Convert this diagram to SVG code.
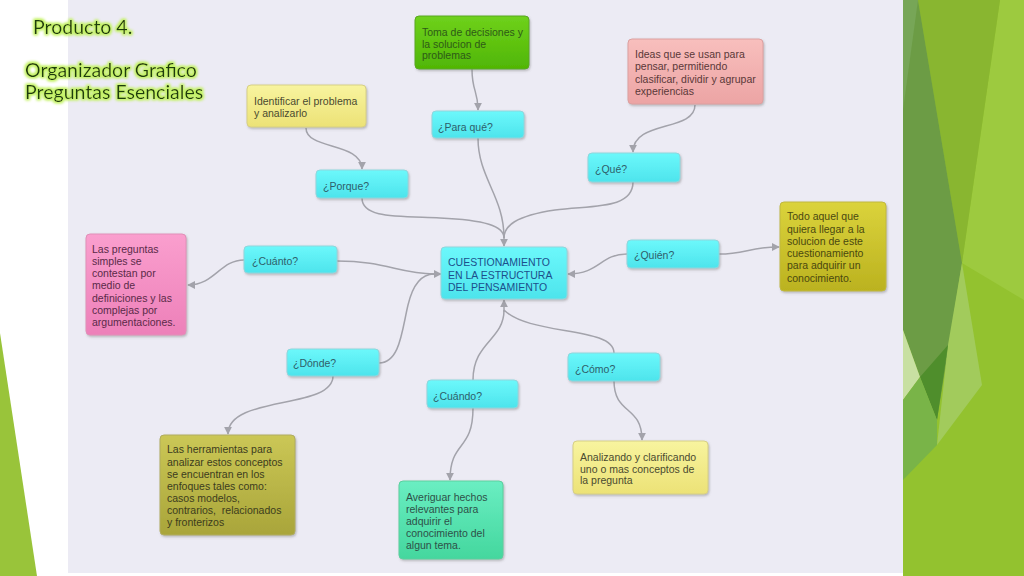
<svg xmlns="http://www.w3.org/2000/svg" width="1024" height="576" viewBox="0 0 1024 576">
<defs>
<linearGradient id="gCyan" x1="0" y1="0" x2="0" y2="1"><stop offset="0" stop-color="#6cf8fb"/><stop offset="1" stop-color="#4de4ec"/></linearGradient>
<linearGradient id="gGreen" x1="0" y1="0" x2="0" y2="1"><stop offset="0" stop-color="#6fd11c"/><stop offset="1" stop-color="#50b605"/></linearGradient>
<linearGradient id="gPink" x1="0" y1="0" x2="0" y2="1"><stop offset="0" stop-color="#f8bfbd"/><stop offset="1" stop-color="#eca4a4"/></linearGradient>
<linearGradient id="gYellow" x1="0" y1="0" x2="0" y2="1"><stop offset="0" stop-color="#f8f49f"/><stop offset="1" stop-color="#ece276"/></linearGradient>
<linearGradient id="gMagenta" x1="0" y1="0" x2="0" y2="1"><stop offset="0" stop-color="#fa9fce"/><stop offset="1" stop-color="#ed80b9"/></linearGradient>
<linearGradient id="gOlive" x1="0" y1="0" x2="0" y2="1"><stop offset="0" stop-color="#cbc756"/><stop offset="1" stop-color="#a9a53a"/></linearGradient>
<linearGradient id="gOliveY" x1="0" y1="0" x2="0" y2="1"><stop offset="0" stop-color="#dbd33c"/><stop offset="1" stop-color="#bbb21f"/></linearGradient>
<linearGradient id="gTeal" x1="0" y1="0" x2="0" y2="1"><stop offset="0" stop-color="#6aeec2"/><stop offset="1" stop-color="#44d79e"/></linearGradient>
<filter id="shadow" x="-10%" y="-10%" width="125%" height="130%">
<feDropShadow dx="1" dy="1.5" stdDeviation="1.2" flood-color="#777" flood-opacity="0.45"/>
</filter>
<filter id="glow" x="-10%" y="-40%" width="120%" height="180%">
<feMorphology in="SourceAlpha" operator="dilate" radius="1.4" result="d"/>
<feGaussianBlur in="d" stdDeviation="1.8" result="b"/>
<feFlood flood-color="#c4f266"/>
<feComposite in2="b" operator="in" result="g"/>
<feMerge><feMergeNode in="g"/><feMergeNode in="g"/><feMergeNode in="SourceGraphic"/></feMerge>
</filter>
<marker id="arr" viewBox="0 0 10 10" refX="9" refY="5" markerWidth="8" markerHeight="8" markerUnits="userSpaceOnUse" orient="auto">
<path d="M0,0 L10,5 L0,10 z" fill="#a3a3ab"/>
</marker>
<style>
.node rect{stroke-width:1;filter:url(#shadow)}
.q rect{fill:url(#gCyan);stroke:#8fd6dc}
text{font-family:"Liberation Sans",Arial,sans-serif;font-size:10.5px}
.q text{fill:#2f5e6a}
.title{font-family:Lato,"Open Sans",sans-serif;font-size:19.5px;fill:#1f3c08;filter:url(#glow)}
#connectors path{fill:none;stroke:#a3a3ab;stroke-width:1.5}
.a{marker-end:url(#arr)}
</style>
</defs>

<!-- background -->
<rect x="0" y="0" width="1024" height="576" fill="#ffffff"/>
<rect x="68" y="0" width="835" height="573" fill="#ecebf4"/>
<polygon points="0,333 37,576 0,576" fill="#99c43a"/>

<!-- right decoration -->
<g id="decor">
<rect x="903" y="0" width="121" height="576" fill="#93c22f"/>
<polygon points="1000,0 1024,0 1024,300 962,263" fill="#9dca3f"/>
<polygon points="918,0 1000,0 962,263" fill="#89b630"/>
<polygon points="903,0 918,0 962,263 937,420 920,377 903,330" fill="#6c9c45"/>
<polygon points="903,0 918,0 903,110" fill="#77a657"/>
<polygon points="962,263 982,385 937,445 948,345" fill="#a2cb5c"/>
<polygon points="903,330 920,377 903,400" fill="#c8e0a2"/>
<polygon points="920,377 948,345 937,420" fill="#4f8e2c"/>
<polygon points="903,400 920,377 937,420 937,445 903,480" fill="#79b448"/>
</g>

<!-- title -->
<g id="title">
<text class="title" x="33" y="34">Producto 4.</text>
<text class="title" x="25" y="77">Organizador Grafico</text>
<text class="title" x="25" y="99">Preguntas Esenciales</text>
</g>

<!-- connectors -->
<g id="connectors">
<path class="a" d="M306,128 C306,150 362,142 362,169"/>
<path class="a" d="M472,69 C472,92 478,90 478,110"/>
<path class="a" d="M695,105 C695,132 633,120 633,152"/>
<path d="M362,198 C362,218 395,216 440,218 C485,220 504,226 504,238"/>
<path d="M478,138 C478,178 504,196 504,238"/>
<path d="M633,182 C633,210 590,205 555,210 C515,216 504,226 504,238"/>
<path class="a" d="M504,232 L504,246"/>
<path d="M337,261 C385,261 400,274 434,274"/>
<path d="M379,363 C400,363 402,330 408,305 C414,280 425,274 434,274"/>
<path class="a" d="M428,274 L441,274"/>
<path d="M473,380 C473,342 504,340 504,310"/>
<path d="M614,353 C614,326 530,336 504,310"/>
<path class="a" d="M504,312 L504,300"/>
<path class="a" d="M627,254 C600,254 600,274 568,274"/>
<path class="a" d="M719,254 C745,254 750,247 779,247"/>
<path class="a" d="M244,260 C220,260 215,285 188,285"/>
<path class="a" d="M333,376 C333,410 228,395 228,434"/>
<path class="a" d="M473,408 C473,452 450,440 450,480"/>
<path class="a" d="M614,381 C614,415 642,405 642,440"/>
</g>

<!-- nodes -->
<g id="center" class="node q">
<rect x="441" y="247" width="126" height="52" rx="4"/>
<text x="448" y="266" style="fill:#1c4f8c"><tspan x="448" y="266">CUESTIONAMIENTO</tspan><tspan x="448" y="278.5">EN LA ESTRUCTURA</tspan><tspan x="448" y="291">DEL PENSAMIENTO</tspan></text>
</g>
<g id="paraque" class="node q">
<rect x="432" y="111" width="92" height="27" rx="4"/>
<text x="438" y="131">¿Para qué?</text>
</g>
<g id="que" class="node q">
<rect x="588" y="153" width="92" height="29" rx="4"/>
<text x="595" y="173">¿Qué?</text>
</g>
<g id="porque" class="node q">
<rect x="316" y="170" width="92" height="28" rx="4"/>
<text x="323" y="190">¿Porque?</text>
</g>
<g id="cuanto" class="node q">
<rect x="244" y="246" width="93" height="27" rx="4"/>
<text x="252" y="265">¿Cuánto?</text>
</g>
<g id="donde" class="node q">
<rect x="287" y="349" width="92" height="27" rx="4"/>
<text x="293" y="367">¿Dónde?</text>
</g>
<g id="quien" class="node q">
<rect x="627" y="240" width="92" height="28" rx="4"/>
<text x="634" y="259">¿Quién?</text>
</g>
<g id="como" class="node q">
<rect x="568" y="353" width="92" height="28" rx="4"/>
<text x="575" y="373">¿Cómo?</text>
</g>
<g id="cuando" class="node q">
<rect x="427" y="380" width="91" height="28" rx="4"/>
<text x="433" y="400">¿Cuándo?</text>
</g>

<g id="toma" class="node">
<rect x="415" y="16" width="114" height="53" rx="4" fill="url(#gGreen)" stroke="#5aa820"/>
<text fill="#2e5a18"><tspan x="422" y="36">Toma de decisiones y</tspan><tspan x="422" y="47.5">la solucion de</tspan><tspan x="422" y="59">problemas</tspan></text>
</g>
<g id="ideas" class="node">
<rect x="628" y="39" width="135" height="65" rx="4" fill="url(#gPink)" stroke="#dca0a0"/>
<text fill="#5a3838"><tspan x="635" y="58">Ideas que se usan para</tspan><tspan x="635" y="70">pensar, permitiendo</tspan><tspan x="635" y="82.5">clasificar, dividir y agrupar</tspan><tspan x="635" y="94.5">experiencias</tspan></text>
</g>
<g id="identificar" class="node">
<rect x="247" y="85" width="119" height="42" rx="4" fill="url(#gYellow)" stroke="#d6cf86"/>
<text fill="#4a4a30"><tspan x="254" y="105">Identificar el problema</tspan><tspan x="254" y="117">y analizarlo</tspan></text>
</g>
<g id="preguntas" class="node">
<rect x="86" y="234" width="100" height="101" rx="4" fill="url(#gMagenta)" stroke="#e090b8"/>
<text fill="#5a2a48"><tspan x="92" y="253">Las preguntas</tspan><tspan x="92" y="265">simples se</tspan><tspan x="92" y="277">contestan por</tspan><tspan x="92" y="289">medio de</tspan><tspan x="92" y="302">definiciones y las</tspan><tspan x="92" y="314">complejas por</tspan><tspan x="92" y="326">argumentaciones.</tspan></text>
</g>
<g id="herramientas" class="node">
<rect x="160" y="435" width="135" height="100" rx="4" fill="url(#gOlive)" stroke="#b0ac60"/>
<text fill="#3c3c1e"><tspan x="167" y="453">Las herramientas para</tspan><tspan x="167" y="465.5">analizar estos conceptos</tspan><tspan x="167" y="477.5">se encuentran en los</tspan><tspan x="167" y="489.5">enfoques tales como:</tspan><tspan x="167" y="501.5">casos modelos,</tspan><tspan x="167" y="514" xml:space="preserve">contrarios,  relacionados</tspan><tspan x="167" y="526">y fronterizos</tspan></text>
</g>
<g id="todo" class="node">
<rect x="780" y="202" width="106" height="89" rx="4" fill="url(#gOliveY)" stroke="#c0b840"/>
<text fill="#4a4810"><tspan x="787" y="220">Todo aquel que</tspan><tspan x="787" y="232.5">quiera llegar a la</tspan><tspan x="787" y="245">solucion de este</tspan><tspan x="787" y="257">cuestionamiento</tspan><tspan x="787" y="269">para adquirir un</tspan><tspan x="787" y="281.5">conocimiento.</tspan></text>
</g>
<g id="averiguar" class="node">
<rect x="399" y="481" width="104" height="78" rx="4" fill="url(#gTeal)" stroke="#5ccf9e"/>
<text fill="#2e5048"><tspan x="406" y="501">Averiguar hechos</tspan><tspan x="406" y="513">relevantes para</tspan><tspan x="406" y="525">adquirir el</tspan><tspan x="406" y="537">conocimiento del</tspan><tspan x="406" y="549">algun tema.</tspan></text>
</g>
<g id="analizando" class="node">
<rect x="573" y="441" width="135" height="53" rx="4" fill="url(#gYellow)" stroke="#d6cf86"/>
<text fill="#4a4a30"><tspan x="580" y="461">Analizando y clarificando</tspan><tspan x="580" y="472.5">uno o mas conceptos de</tspan><tspan x="580" y="484">la pregunta</tspan></text>
</g>
</svg>
